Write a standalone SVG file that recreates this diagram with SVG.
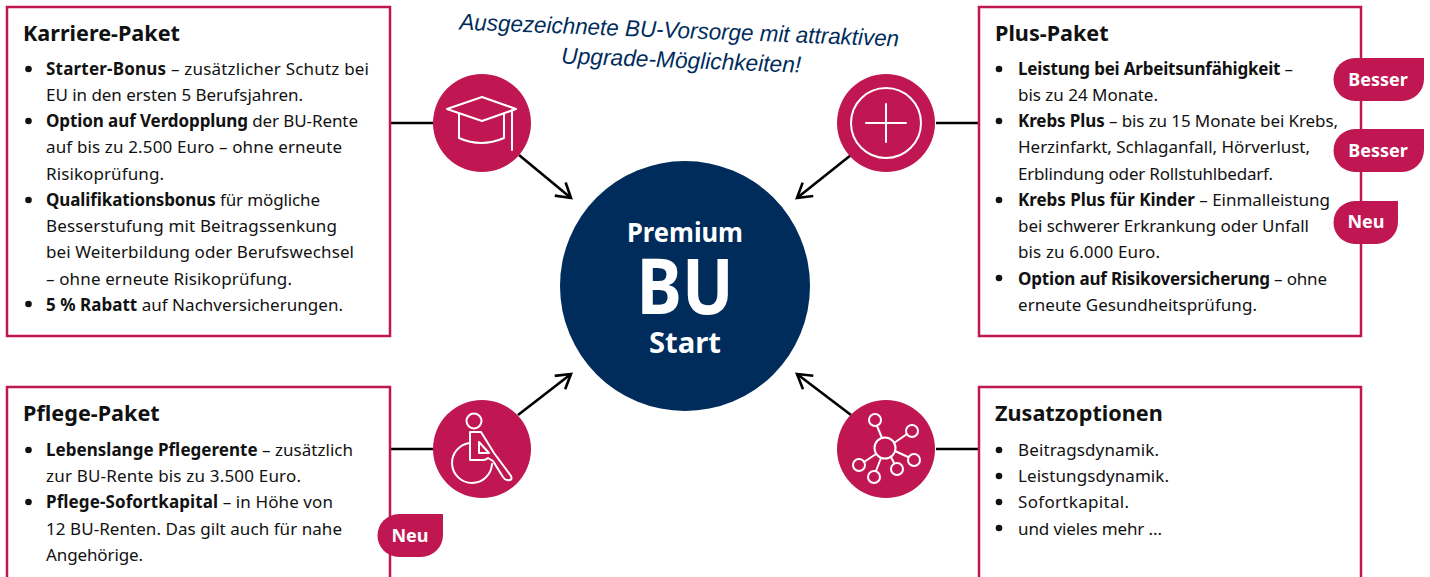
<svg xmlns="http://www.w3.org/2000/svg" width="1430" height="577" viewBox="0 0 1430 577">
<style>
text{font-family:"Noto Sans","Liberation Sans",sans-serif;fill:#111}
.t{font-size:17px}
.b{font-weight:700}
.h{font-size:21.600px;font-weight:700}
.box{fill:#fff;stroke:#c01652;stroke-width:2.5}
.c{fill:#c01652}
.d{fill:#111}
.l{stroke:#000;stroke-width:2.6;fill:none}
.i{stroke:#fff;stroke-width:2;fill:none;stroke-linejoin:round;stroke-linecap:round}
.bg{font-size:18px;font-weight:700;fill:#fff;text-anchor:middle}
.s{font-family:"Liberation Sans",sans-serif;font-style:italic;font-size:23px;fill:#002c5c;text-anchor:middle}
.w{fill:#fff;font-weight:700;text-anchor:middle}
</style>
<defs>
<marker id="a" viewBox="0 0 20 20" refX="17" refY="10" markerWidth="20" markerHeight="20" markerUnits="userSpaceOnUse" orient="auto"><path d="M3 1.500L17 10L3 18.500" fill="none" stroke="#000" stroke-width="2.600"/></marker>
</defs>
<g id="connectors">
<path class="l" d="M390 123H434"/><path class="l" d="M936 123H979"/><path class="l" d="M390 449H434"/><path class="l" d="M936 449H979"/>
<path class="l" d="M519 155L571 198" marker-end="url(#a)"/>
<path class="l" d="M851 155L797 198" marker-end="url(#a)"/>
<path class="l" d="M518 415L571 374" marker-end="url(#a)"/>
<path class="l" d="M851 415L797 374" marker-end="url(#a)"/>
</g>
<g id="karriere">
<rect class="box" x="7" y="7" width="383" height="329"/>
<text class="h" x="23" y="41">Karriere-Paket</text>
<circle class="d" cx="28.500" cy="69" r="3.300"/><circle class="d" cx="28.500" cy="121" r="3.300"/><circle class="d" cx="28.500" cy="200" r="3.300"/><circle class="d" cx="28.500" cy="304" r="3.300"/>
<text class="t" x="46" y="75" textLength="323"><tspan class="b">Starter-Bonus</tspan> – zusätzlicher Schutz bei</text>
<text class="t" x="46" y="101" textLength="257">EU in den ersten 5 Berufsjahren.</text>
<text class="t" x="46" y="127" textLength="312"><tspan class="b">Option auf Verdopplung</tspan> der BU-Rente</text>
<text class="t" x="46" y="153" textLength="296">auf bis zu 2.500 Euro – ohne erneute</text>
<text class="t" x="46" y="180" textLength="118">Risikoprüfung.</text>
<text class="t" x="46" y="206" textLength="274"><tspan class="b">Qualifikationsbonus</tspan> für mögliche</text>
<text class="t" x="46" y="232" textLength="291">Besserstufung mit Beitragssenkung</text>
<text class="t" x="46" y="258" textLength="308">bei Weiterbildung oder Berufswechsel</text>
<text class="t" x="46" y="285" textLength="246">– ohne erneute Risikoprüfung.</text>
<text class="t" x="46" y="311" textLength="297"><tspan class="b">5 % Rabatt</tspan> auf Nachversicherungen.</text>
</g>
<g id="plus">
<rect class="box" x="979" y="7" width="382" height="329"/>
<text class="h" x="995" y="41">Plus-Paket</text>
<circle class="d" cx="999" cy="69" r="3.300"/><circle class="d" cx="999" cy="121" r="3.300"/><circle class="d" cx="999" cy="200" r="3.300"/><circle class="d" cx="999" cy="278" r="3.300"/>
<text class="t" x="1018" y="75" textLength="275"><tspan class="b">Leistung bei Arbeitsunfähigkeit</tspan> –</text>
<text class="t" x="1018" y="101" textLength="140">bis zu 24 Monate.</text>
<text class="t" x="1018" y="127" textLength="320"><tspan class="b">Krebs Plus</tspan> – bis zu 15 Monate bei Krebs,</text>
<text class="t" x="1018" y="153" textLength="292">Herzinfarkt, Schlaganfall, Hörverlust,</text>
<text class="t" x="1018" y="180" textLength="255">Erblindung oder Rollstuhlbedarf.</text>
<text class="t" x="1018" y="206" textLength="312"><tspan class="b">Krebs Plus für Kinder</tspan> – Einmalleistung</text>
<text class="t" x="1018" y="232" textLength="291">bei schwerer Erkrankung oder Unfall</text>
<text class="t" x="1018" y="258" textLength="142">bis zu 6.000 Euro.</text>
<text class="t" x="1018" y="285" textLength="309"><tspan class="b">Option auf Risikoversicherung</tspan> – ohne</text>
<text class="t" x="1018" y="311" textLength="239">erneute Gesundheitsprüfung.</text>
</g>
<g id="pflege">
<path class="box" d="M7 577V387H390V577"/>
<text class="h" x="23" y="421">Pflege-Paket</text>
<circle class="d" cx="28.500" cy="450" r="3.300"/><circle class="d" cx="28.500" cy="502" r="3.300"/>
<text class="t" x="46" y="456" textLength="307"><tspan class="b">Lebenslange Pflegerente</tspan> – zusätzlich</text>
<text class="t" x="46" y="482" textLength="255">zur BU-Rente bis zu 3.500 Euro.</text>
<text class="t" x="46" y="508" textLength="287"><tspan class="b">Pflege-Sofortkapital</tspan> – in Höhe von</text>
<text class="t" x="46" y="535" textLength="296">12 BU-Renten. Das gilt auch für nahe</text>
<text class="t" x="46" y="561" textLength="97">Angehörige.</text>
</g>
<g id="zusatz">
<path class="box" d="M979 577V387H1361V577"/>
<text class="h" x="995" y="421">Zusatzoptionen</text>
<circle class="d" cx="999" cy="450" r="3.300"/><circle class="d" cx="999" cy="476" r="3.300"/><circle class="d" cx="999" cy="502" r="3.300"/><circle class="d" cx="999" cy="528" r="3.300"/>
<text class="t" x="1018" y="456" textLength="141">Beitragsdynamik.</text>
<text class="t" x="1018" y="482" textLength="151">Leistungsdynamik.</text>
<text class="t" x="1018" y="508" textLength="111">Sofortkapital.</text>
<text class="t" x="1018" y="535" textLength="144">und vieles mehr ...</text>
</g>
<g id="center">
<circle cx="685" cy="286" r="125" fill="#002c5c"/>
<text class="w" x="685" y="242" font-size="27" textLength="116" lengthAdjust="spacingAndGlyphs">Premium</text>
<text class="w" x="685" y="314" font-size="77" textLength="97" lengthAdjust="spacingAndGlyphs">BU</text>
<text class="w" x="685" y="353" font-size="28" textLength="72" lengthAdjust="spacingAndGlyphs">Start</text>
</g>
<g id="headline">
<text class="s" transform="translate(679 38) rotate(2.200)" textLength="440" lengthAdjust="spacingAndGlyphs">Ausgezeichnete BU-Vorsorge mit attraktiven</text>
<text class="s" transform="translate(681 68) rotate(2.200)" textLength="240" lengthAdjust="spacingAndGlyphs">Upgrade-Möglichkeiten!</text>
</g>
<g id="icon-karriere">
<circle class="c" cx="482" cy="123" r="49"/>
<path class="i" d="M447 109L482 97L516 109L482 121Z"/>
<path class="i" d="M459 114V138Q481 148 504 138V114M512 110V150"/>
</g>
<g id="icon-plus">
<circle class="c" cx="886" cy="123" r="49"/>
<circle class="i" cx="886" cy="123" r="35"/>
<path class="i" d="M866 123H906M886 104V142"/>
</g>
<g id="icon-pflege">
<circle class="c" cx="482" cy="449" r="49"/>
<circle class="i" cx="474" cy="421" r="7.500"/>
<path class="i" d="M470 432H481L494 453L511 476Q513 481 507 480Q505 480 503 477L493 461L488 458Q486 460 483 460H470Z"/>
<path class="i" d="M479 442V453H489ZM470 443A20 20 0 1 0 492 464"/>
</g>
<g id="icon-zusatz">
<circle class="c" cx="886" cy="449" r="49"/>
<g class="i">
<circle cx="885" cy="448" r="10.500"/><circle cx="875" cy="420" r="6"/><circle cx="912" cy="431" r="6"/><circle cx="914" cy="460" r="6"/><circle cx="897" cy="469" r="6"/><circle cx="874" cy="477" r="6"/><circle cx="859" cy="465" r="6"/>
<path d="M877 426L882 438M894 443L907 434M895 451L908 457M891 457L894 463M881 458L876 471M876 454L864 462"/>
</g>
</g>
<g id="badges">
<path class="c" d="M1355 58H1424V79A22 22 0 0 1 1402 101H1355A21.500 21.500 0 0 1 1355 58Z"/><text class="bg" x="1378" y="86">Besser</text>
<path class="c" d="M1355 129H1424V150A22 22 0 0 1 1402 172H1355A21.500 21.500 0 0 1 1355 129Z"/><text class="bg" x="1378" y="157">Besser</text>
<path class="c" d="M1355 201H1398V222A22 22 0 0 1 1376 244H1355A21.500 21.500 0 0 1 1355 201Z"/><text class="bg" x="1366" y="228">Neu</text>
<path class="c" d="M399 514H443V535A22 22 0 0 1 421 557H399A21.500 21.500 0 0 1 399 514Z"/><text class="bg" x="410" y="542">Neu</text>
</g>
</svg>
